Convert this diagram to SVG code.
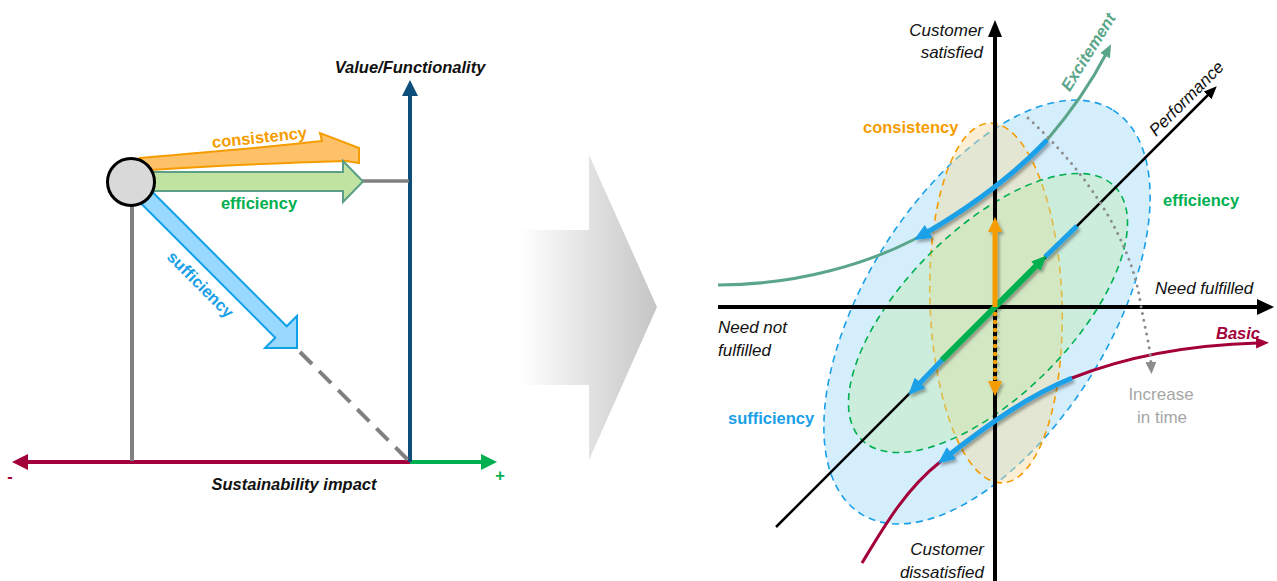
<svg xmlns="http://www.w3.org/2000/svg" width="1277" height="581" viewBox="0 0 1277 581">
  <style>
    text { font-family: "Liberation Sans", Arial, sans-serif; }
    .lbl { font-size: 17px; font-style: italic; fill: #111; }
    .lblb { font-size: 16.5px; font-style: italic; font-weight: bold; fill: #111; }
    .bold { font-size: 16.5px; font-weight: bold; }
    .orange { fill: #f59c00; }
    .green { fill: #00b050; }
    .blue { fill: #1aa0e8; }
    .teal { fill: #5ba68a; }
    .crimson { fill: #a3003b; }
    .grayt { font-size: 17px; fill: #a6a6a6; }
    .axis { stroke: #000; stroke-width: 4; fill: none; }
    .dash { stroke-width: 1.6; stroke-dasharray: 7 5; }
  </style>
  <defs>
    <linearGradient id="bigArrowGrad" gradientUnits="userSpaceOnUse" x1="520" y1="0" x2="660" y2="0">
      <stop offset="0" stop-color="#ffffff"/>
      <stop offset="1" stop-color="#c4c4c4"/>
    </linearGradient>
    <filter id="shadow" filterUnits="userSpaceOnUse" x="0" y="0" width="1277" height="581">
      <feDropShadow dx="2" dy="2.5" stdDeviation="1.8" flood-color="#000" flood-opacity="0.35"/>
    </filter>
    <marker id="mBlue" markerUnits="userSpaceOnUse" markerWidth="17" markerHeight="15" refX="3" refY="7.5" orient="auto">
      <path d="M0,0 L17,7.5 L0,15 Z" fill="#1aa0e8"/>
    </marker>
    <marker id="mGreen" markerUnits="userSpaceOnUse" markerWidth="15" markerHeight="13" refX="3" refY="6.5" orient="auto">
      <path d="M0,0 L15,6.5 L0,13 Z" fill="#00b050"/>
    </marker>
    <marker id="mOrange" markerUnits="userSpaceOnUse" markerWidth="15" markerHeight="14" refX="3" refY="7" orient="auto">
      <path d="M0,0 L15,7 L0,14 Z" fill="#f59c00"/>
    </marker>
    <marker id="mTeal" markerUnits="userSpaceOnUse" markerWidth="13" markerHeight="11" refX="2" refY="5.5" orient="auto">
      <path d="M0,0 L13,5.5 L0,11 Z" fill="#5ba68a"/>
    </marker>
    <marker id="mCrimson" markerUnits="userSpaceOnUse" markerWidth="13" markerHeight="11" refX="2" refY="5.5" orient="auto">
      <path d="M0,0 L13,5.5 L0,11 Z" fill="#a3003b"/>
    </marker>
    <marker id="mBlack" markerUnits="userSpaceOnUse" markerWidth="13" markerHeight="11" refX="2" refY="5.5" orient="auto">
      <path d="M0,0 L13,5.5 L0,11 Z" fill="#000"/>
    </marker>
    <marker id="mGray" markerUnits="userSpaceOnUse" markerWidth="12" markerHeight="11" refX="2" refY="5.5" orient="auto">
      <path d="M0,0 L12,5.5 L0,11 Z" fill="#8c8c8c"/>
    </marker>
  </defs>

  <!-- ===== Left: sustainability strategies ===== -->
  <g id="left-axes">
    <!-- sustainability impact axis -->
    <line x1="410" y1="462" x2="26" y2="462" stroke="#a3003b" stroke-width="4"/>
    <polygon points="12,462 28,454 28,470" fill="#a3003b"/>
    <line x1="410" y1="462" x2="483" y2="462" stroke="#00b050" stroke-width="4"/>
    <polygon points="497,462 481,454 481,470" fill="#00b050"/>
    <!-- value axis -->
    <line x1="410" y1="462" x2="410" y2="94" stroke="#0d4f7a" stroke-width="4"/>
    <polygon points="410,80 402,96 418,96" fill="#0d4f7a"/>
    <!-- helper lines -->
    <line x1="132" y1="205" x2="132" y2="461" stroke="#808080" stroke-width="4"/>
    <line x1="362" y1="181" x2="409" y2="181" stroke="#808080" stroke-width="3.5"/>
    <line x1="300" y1="352" x2="409" y2="461" stroke="#808080" stroke-width="4" stroke-dasharray="17 10"/>
  </g>

  <g id="left-labels">
    <text class="lblb" x="410" y="73" text-anchor="middle" font-size="17">Value/Functionality</text>
    <text class="lblb" x="294" y="490" text-anchor="middle" font-size="17">Sustainability impact</text>
    <text x="10" y="482" class="bold crimson" text-anchor="middle">-</text>
    <text x="500" y="481" class="bold green" text-anchor="middle">+</text>
  </g>

  <g id="arrow-sufficiency-left">
    <polygon points="145.7,185.3 286.7,326.3 297,316 297,348 265,348 275.3,337.7 134.3,196.7" fill="#99d9ff" stroke="#10a0e8" stroke-width="2" stroke-linejoin="miter"/>
    <text class="bold blue" x="196.5" y="288.5" text-anchor="middle" transform="rotate(45 196.5 288.5)">sufficiency</text>
  </g>

  <g id="arrow-consistency-left">
    <path d="M140,158 C200,153 270,147 322,141 L320,133 L359,148 L359,163 L346,161 C280,163 210,166 150,170 Z" fill="#fdc16a" stroke="#f59c00" stroke-width="2" stroke-linejoin="miter"/>
    <text class="bold orange" x="260" y="143" text-anchor="middle" transform="rotate(-6 260 143)">consistency</text>
  </g>

  <g id="arrow-efficiency-left">
    <polygon points="148,172 343,172 343,161 363,181.5 343,202 343,191 148,191" fill="#c0e3a2" stroke="#5a9f86" stroke-width="2"/>
    <text class="bold green" x="259" y="209" text-anchor="middle">efficiency</text>
  </g>

  <g id="product-node">
    <circle cx="131" cy="182" r="23.5" fill="#d9d9d9" stroke="#000" stroke-width="3"/>
  </g>

  <!-- ===== Transition arrow ===== -->
  <g id="transition-arrow">
    <polygon points="520,230 589,230 589,155 657,307 589,460 589,385 520,385" fill="url(#bigArrowGrad)"/>
  </g>

  <!-- ===== Right: Kano model ===== -->
  <g id="zones">
    <ellipse class="dash" cx="987" cy="312" rx="238" ry="122" transform="rotate(-58 987 312)" fill="#d5eefc" stroke="#1aa0e8"/>
    <ellipse class="dash" cx="996" cy="303" rx="66" ry="180" transform="rotate(-2 996 303)" fill="#f5dca0" fill-opacity="0.45" stroke="#f59c00"/>
    <ellipse class="dash" cx="988" cy="313" rx="179" ry="83" transform="rotate(-45 988 313)" fill="#bde8ad" fill-opacity="0.4" stroke="#00b050"/>
  </g>

  <g id="kano-axes">
    <line class="axis" x1="995" y1="582" x2="995" y2="35"/>
    <polygon points="995,20 988,37 1002,37" fill="#000"/>
    <line class="axis" x1="718" y1="307" x2="1259" y2="307"/>
    <polygon points="1274,307 1257,299 1257,315" fill="#000"/>
    <line x1="776" y1="527" x2="1209" y2="94" stroke="#000" stroke-width="2.5" marker-end="url(#mBlack)"/>
  </g>

  <g id="connectors">
    <!-- excitement curve -->
    <path d="M718,285 C800,285 870,262 913,240 C960,215 1010,180 1047,140 C1070,113 1090,85 1106,54" fill="none" stroke="#5ba68a" stroke-width="3" marker-end="url(#mTeal)"/>
    <!-- basic curve -->
    <path d="M862,563 C885,525 905,490 940,462 C985,425 1030,395 1072,378 C1130,355 1190,345 1258,343" fill="none" stroke="#a3003b" stroke-width="3" marker-end="url(#mCrimson)"/>
    <g filter="url(#shadow)">
      <!-- sufficiency shifts -->
      <path d="M1047,140 C1012,177 965,210 926,233" fill="none" stroke="#1aa0e8" stroke-width="5" marker-end="url(#mBlue)"/>
      <path d="M1072,378 C1030,395 990,423 949,455" fill="none" stroke="#1aa0e8" stroke-width="5" marker-end="url(#mBlue)"/>
      <line x1="1045" y1="257" x2="1077" y2="226" stroke="#1aa0e8" stroke-width="5"/>
      <line x1="944" y1="358" x2="918" y2="385" stroke="#1aa0e8" stroke-width="5" marker-end="url(#mBlue)"/>
      <!-- efficiency along performance -->
      <line x1="995" y1="307" x2="942" y2="360" stroke="#00b050" stroke-width="6"/>
      <line x1="995" y1="307" x2="1038" y2="264" stroke="#00b050" stroke-width="6" marker-end="url(#mGreen)"/>
      <!-- consistency along satisfaction -->
      <line x1="995" y1="307" x2="995" y2="229" stroke="#f59c00" stroke-width="5" marker-end="url(#mOrange)"/>
      <line x1="995" y1="314" x2="995" y2="384" stroke="#f59c00" stroke-width="4.5" stroke-dasharray="0 8" stroke-linecap="round" marker-end="url(#mOrange)"/>
    </g>
    <!-- time shift -->
    <path d="M1028,118 C1090,175 1130,240 1140,300 C1145,330 1150,345 1151,364" fill="none" stroke="#8c8c8c" stroke-width="3" stroke-dasharray="0 7" stroke-linecap="round" marker-end="url(#mGray)"/>
  </g>

  <g id="kano-labels">
    <text class="lbl" x="983" y="36" text-anchor="end">Customer</text>
    <text class="lbl" x="983" y="58" text-anchor="end">satisfied</text>
    <text class="lbl" x="984" y="555" text-anchor="end">Customer</text>
    <text class="lbl" x="984" y="578" text-anchor="end">dissatisfied</text>
    <text class="lbl" x="1155" y="294">Need fulfilled</text>
    <text class="lbl" x="718" y="333">Need not</text>
    <text class="lbl" x="718" y="356">fulfilled</text>
    <text class="lbl" x="1190.5" y="102.5" text-anchor="middle" transform="rotate(-45 1190.5 102.5)">Performance</text>
    <text class="lblb teal" x="1093" y="55" text-anchor="middle" font-size="17" transform="rotate(-58 1093 55)">Excitement</text>
    <text class="lblb crimson" x="1216" y="339">Basic</text>
    <text class="grayt" x="1161" y="400" text-anchor="middle">Increase</text>
    <text class="grayt" x="1162" y="423" text-anchor="middle">in time</text>
    <text class="bold orange" x="863" y="133">consistency</text>
    <text class="bold green" x="1163" y="206">efficiency</text>
    <text class="bold blue" x="728" y="424">sufficiency</text>
  </g>
</svg>
